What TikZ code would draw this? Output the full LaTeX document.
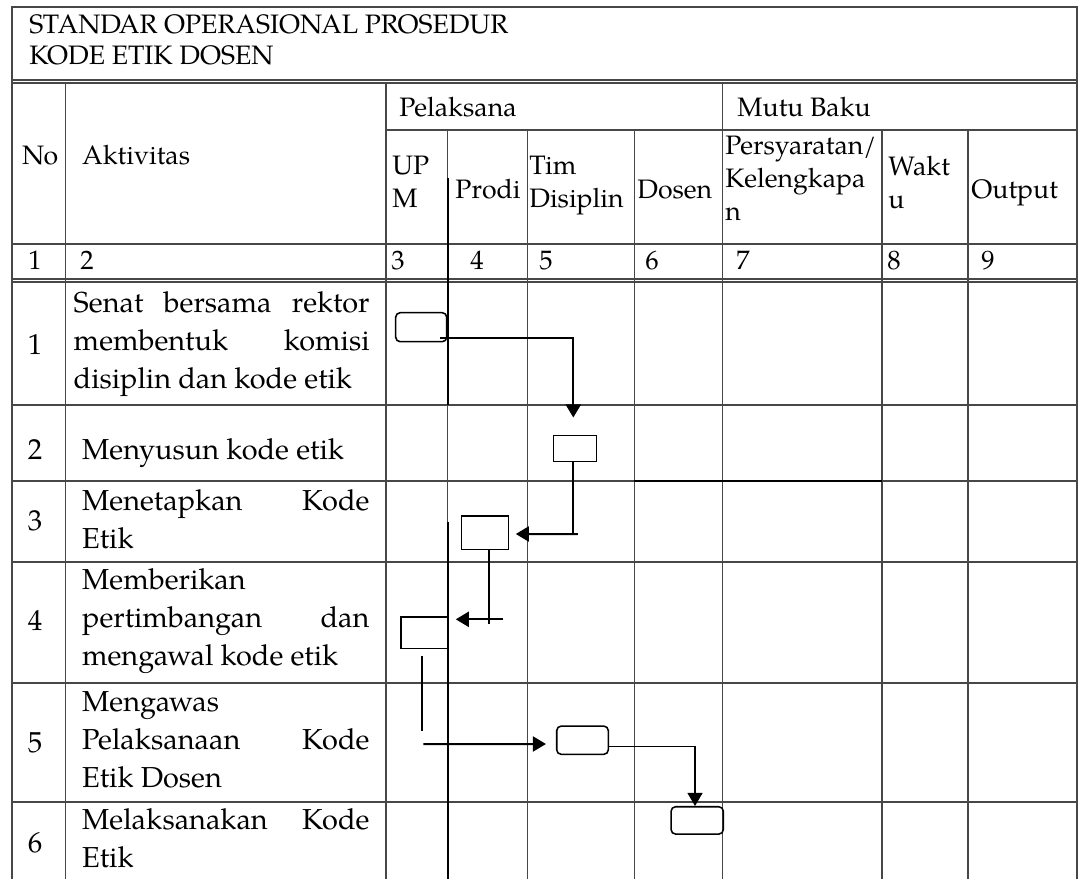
\documentclass[tikz,border=0pt]{standalone}
\usepackage{fontspec}
\setmainfont{TeX Gyre Pagella}
\usetikzlibrary{arrows.meta, calc}

\newcommand{\rata}[1]{\makebox[129.3pt][s]{#1}}

\tikzset{
	garis/.style={draw=black!72, line width=0.5pt},
	tebal/.style={draw=black, line width=0.9pt},
	alur/.style={tebal, -{Triangle[width=6.8pt, length=5.9pt]}},
	kotak/.style={draw, line width=0.7pt, inner sep=0pt},
	tulis/.style={anchor=west, inner sep=0pt, align=left, execute at begin node=\strut, execute at end node=\strut},
	kepala/.style={tulis, font=\fontsize{12}{14.85}\selectfont},
	isi/.style={tulis, font=\fontsize{13}{17.1}\selectfont},
}

\begin{document}
\begin{tikzpicture}[x=0.45pt, y=-0.45pt]
	\useasboundingbox (0,0) rectangle (1079,879);
	% garis tabel
	\draw[garis] (12,879) -- (12,7) -- (1077,7) -- (1077,879);
	\draw[garis] (12,80) -- (1077,80) (12,83) -- (1077,83);
	\draw[garis] (386,130) -- (1077,130);
	\draw[garis] (12,244) -- (1077,244);
	\draw[garis] (12,279) -- (1077,279) (12,282) -- (1077,282);
	\foreach \y in {405,481,562,683,802} \draw[garis] (12,\y) -- (1077,\y);
	\foreach \x in {65.7,386,722.7} \draw[garis] (\x,83) -- (\x,879);
	\foreach \x in {447.7,527.7,634.3,882,968} \draw[garis] (\x,130) -- (\x,879);
	\draw[tebal] (447.7,178) -- (447.7,405) (447.7,522) -- (447.7,879);
	\draw[tebal] (634.3,481) -- (882,481);

	% kepala tabel
	\node[kepala, font=\fontsize{12}{14}\selectfont] (judul) at (29,44.5) {STANDAR OPERASIONAL PROSEDUR\\KODE ETIK DOSEN};
	\node[kepala] (hNo) at (21.7,158) {No};
	\node[kepala] (hAkt) at (81.7,158) {Aktivitas};
	\node[kepala] (hPel) at (399,110) {Pelaksana};
	\node[kepala] (hMutu) at (737,110) {Mutu Baku};
	\node[kepala] (hUPM) at (392,186.5) {UP\\M};
	\node[kepala] (hProdi) at (455,192) {Prodi};
	\node[kepala] (hTim) at (529,187) {Tim\\Disiplin};
	\node[kepala] (hDosen) at (637,192) {Dosen};
	\node[kepala] (hSyarat) at (725,183) {Persyaratan/\\Kelengkapa\\n};
	\node[kepala] (hWaktu) at (888,187) {Wakt\\u};
	\node[kepala] (hOutput) at (971,192) {Output};
	\foreach \t/\x in {1/35,2/87,3/398,4/477,5/546,6/652,7/743,8/894,9/988}
		\node[kepala, anchor=center] (k\t) at (\x,263) {\t};

	% isi tabel
	\foreach \t/\y in {1/347,2/452,3/523,4/623,5/745,6/845}
		\node[isi, anchor=center] (no\t) at (35,\y) {\t};
	\node[isi] (akt1) at (73.3,345.5) {\makebox[133.1pt][s]{Senat bersama rektor}\\\makebox[133.1pt][s]{membentuk komisi}\\disiplin dan kode etik};
	\node[isi] (akt2) at (81.7,452) {Menyusun kode etik};
	\node[isi] (akt3) at (81.7,525) {\rata{Menetapkan Kode}\\Etik};
	\node[isi] (akt4) at (81.7,623) {Memberikan\\\rata{pertimbangan dan}\\mengawal kode etik};
	\node[isi] (akt5) at (81.7,745) {Mengawas\\\rata{Pelaksanaan Kode}\\Etik Dosen};
	\node[isi] (akt6) at (81.7,843.5) {\rata{Melaksanakan Kode}\\Etik};

	% bagan alir
	\node[kotak, rounded corners=2pt, minimum width=22.95pt, minimum height=13.05pt] (kA) at (421.2,327.2) {};
	\node[kotak, minimum width=19.5pt, minimum height=11.7pt] (kB) at (575,448.7) {};
	\node[kotak, minimum width=21pt, minimum height=15pt] (kC) at (485,532.7) {};
	\node[kotak, minimum width=21.4pt, minimum height=14.2pt] (kD) at (424.5,632.5) {};
	\node[kotak, rounded corners=2pt, minimum width=23.2pt, minimum height=12.7pt] (kE) at (582.5,740.2) {};
	\node[kotak, rounded corners=2pt, minimum width=23.5pt, minimum height=12.3pt] (kF) at (697.2,820.4) {};

	\coordinate (ab) at ($(kA.south east)+(-7.7,-4.4)$);
	\coordinate (bc) at (577.7,534);
	\coordinate (cd) at (502.7,619.3);
	\coordinate (de) at (423.3,744);
	\draw[alur] (ab) -| ($(kB.north)+(-1.7,-17.4)$);
	\draw[tebal] ($(kB.south)+(-1.7,0)$) |- (bc);
	\draw[alur] (bc) -- ($(kC.east)+(6.7,1.3)$);
	\draw[tebal] ($(kC.south)+(4.3,0)$) -- ++(0,74);
	\draw[alur] (cd) -- ($(kD.east)+(6.7,-13.2)$);
	\draw[tebal] ($(kD.south)+(-2.8,6.7)$) -- ++(0,75.7);
	\draw[alur] (de) -- ($(kE.west)+(-10,3.8)$);
	\draw[alur, line width=0.6pt] ($(kE.east)+(0,6.5)$) -| ($(kF.north)+(-2.2,0)$);
\end{tikzpicture}
\end{document}
